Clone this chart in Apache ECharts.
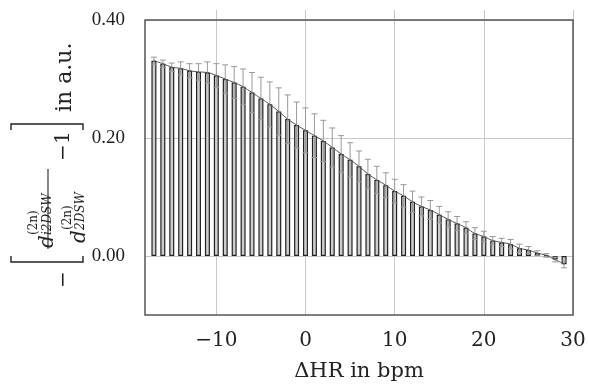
<!DOCTYPE html>
<html>
<head>
<meta charset="utf-8">
<script src="https://cdn.jsdelivr.net/npm/echarts@6/dist/echarts.min.js"></script>
<style>
html, body { margin: 0; padding: 0; background: #fff; }
#chart { width: 589px; height: 387px; }
</style>
</head>
<body>
<div id="chart"></div>
<script>
// heart rate offset in bpm
var hr = [-17, -16, -15, -14, -13, -12, -11, -10, -9, -8, -7, -6, -5, -4, -3, -2, -1,
          0, 1, 2, 3, 4, 5, 6, 7, 8, 9, 10, 11, 12, 13, 14, 15, 16, 17, 18, 19,
          20, 21, 22, 23, 24, 25, 26, 27, 28, 29];
// relative deviation (bar heights)
var deviation = [0.331, 0.326, 0.320, 0.318, 0.314, 0.312, 0.311, 0.306, 0.300, 0.294,
                 0.287, 0.277, 0.267, 0.257, 0.245, 0.232, 0.222,
                 0.213, 0.204, 0.195, 0.184, 0.173, 0.163, 0.152, 0.139, 0.129, 0.120,
                 0.110, 0.102, 0.092, 0.084, 0.078, 0.070, 0.062, 0.055, 0.048, 0.038,
                 0.033, 0.026, 0.023, 0.020, 0.013, 0.010, 0.005, 0.001, -0.006, -0.014];
// standard deviation (error bars)
var spread = [0.006, 0.006, 0.007, 0.011, 0.012, 0.014, 0.018, 0.020, 0.024, 0.027,
              0.030, 0.034, 0.036, 0.038, 0.040, 0.041, 0.039,
              0.038, 0.037, 0.035, 0.033, 0.031, 0.029, 0.026, 0.025, 0.023, 0.021,
              0.020, 0.019, 0.018, 0.016, 0.016, 0.014, 0.013, 0.012, 0.010, 0.010,
              0.009, 0.007, 0.007, 0.008, 0.007, 0.006, 0.004, 0.003, 0.004, 0.006];
var xTicks = [-10, 0, 10, 20, 30];
var yTicks = [0, 0.2, 0.4];

var serif = 'DejaVu Serif';
var narrow = 'Liberation Serif';

var barData = hr.map(function (x, i) { return [x, deviation[i]]; });
var errData = hr.map(function (x, i) { return [x, deviation[i], spread[i]]; });

function minus(v) { return String(v).replace('-', '\u2212'); }

// rotated y label, built piece by piece (u along the text, v across it)
function t(text, u, v, size, italic) {
    return {
        type: 'text',
        style: {
            text: text, x: u, y: v, fill: '#222',
            font: (italic ? 'italic ' : '') + size + 'px "' + serif + '"',
            textAlign: 'left', textVerticalAlign: 'alphabetic'
        }
    };
}
var yLabel = {
    type: 'group', x: 47, y: 290, rotation: Math.PI / 2,
    children: [
        t('\u2212', 2, 7, 20, false),
        { type: 'polyline', shape: { points: [[34, -36], [28, -36], [28, 36], [34, 36]] },
          style: { stroke: '#222', lineWidth: 1.4, fill: null } },
        // numerator
        t('d', 42, -9, 20, true),
        t('(2n)', 55, -19, 12, false),
        t('i2DSW', 55, -5, 12, true),
        { type: 'line', shape: { x1: 41, y1: 1, x2: 121, y2: 1 }, style: { stroke: '#222', lineWidth: 1.1 } },
        // denominator
        t('d', 47, 23, 20, true),
        t('(2n)', 60, 15, 12, false),
        t('2DSW', 60, 28, 12, true),
        t('\u2212', 129, 7, 20, false),
        t('1', 146, 7, 20, false),
        { type: 'polyline', shape: { points: [[160, -36], [166, -36], [166, 36], [160, 36]] },
          style: { stroke: '#222', lineWidth: 1.4, fill: null } },
        t('in a.u.', 178, 7, 22, false)
    ]
};

var chart = echarts.init(document.getElementById('chart'));
chart.setOption({
    animation: false,
    grid: { left: 145, right: 16, top: 20, bottom: 72 },
    xAxis: [{
        type: 'value', min: -18, max: 30,
        name: '\u0394HR in bpm', nameLocation: 'middle', nameGap: 46,
        nameTextStyle: { fontFamily: serif, fontSize: 21, color: '#222' },
        axisLine: { show: false },
        axisTick: { show: true, length: 10, customValues: xTicks, lineStyle: { color: '#c8c8c8' } },
        axisLabel: { customValues: xTicks, margin: 16, fontFamily: serif, fontSize: 20, color: '#222', formatter: minus },
        splitLine: { show: true, lineStyle: { color: '#c8c8c8', width: 1 } }
    }, {
        type: 'value', min: -18, max: 30, position: 'top',
        axisLine: { show: false },
        axisTick: { show: true, length: 10, customValues: xTicks, lineStyle: { color: '#c8c8c8' } },
        axisLabel: { show: false },
        splitLine: { show: false }
    }],
    yAxis: {
        type: 'value', min: -0.1, max: 0.4,
        axisLine: { show: false },
        axisTick: { show: false, customValues: yTicks },
        axisLabel: {
            customValues: yTicks, margin: 20, fontFamily: narrow, fontSize: 19, color: '#222',
            formatter: function (v) { return v.toFixed(2); }
        },
        splitLine: { show: true, lineStyle: { color: '#c8c8c8', width: 1 } }
    },
    graphic: [
        { type: 'rect', z: 100, shape: { x: 145, y: 20, width: 428, height: 295 },
          style: { fill: null, stroke: '#555', lineWidth: 1.5 } },
        yLabel
    ],
    series: [{
        type: 'bar', data: barData, barWidth: 5,
        itemStyle: { color: '#cdcdcd', borderColor: '#222', borderWidth: 1.2 }
    }, {
        type: 'custom', data: errData, z: 3,
        renderItem: function (params, api) {
            var x = api.value(0), y = api.value(1), e = api.value(2);
            var hi = api.coord([x, y + e]), lo = api.coord([x, y - e]);
            var w = 3, st = { stroke: '#999', lineWidth: 1 };
            return {
                type: 'group', children: [
                    { type: 'line', shape: { x1: hi[0], y1: hi[1], x2: lo[0], y2: lo[1] }, style: st },
                    { type: 'line', shape: { x1: hi[0] - w, y1: hi[1], x2: hi[0] + w, y2: hi[1] }, style: st },
                    { type: 'line', shape: { x1: lo[0] - w, y1: lo[1], x2: lo[0] + w, y2: lo[1] }, style: st }
                ]
            };
        }
    }, {
        type: 'line', data: barData, z: 4, smooth: 0.3, symbol: 'none',
        lineStyle: { color: '#555', width: 1 }
    }]
});
</script>
</body>
</html>
